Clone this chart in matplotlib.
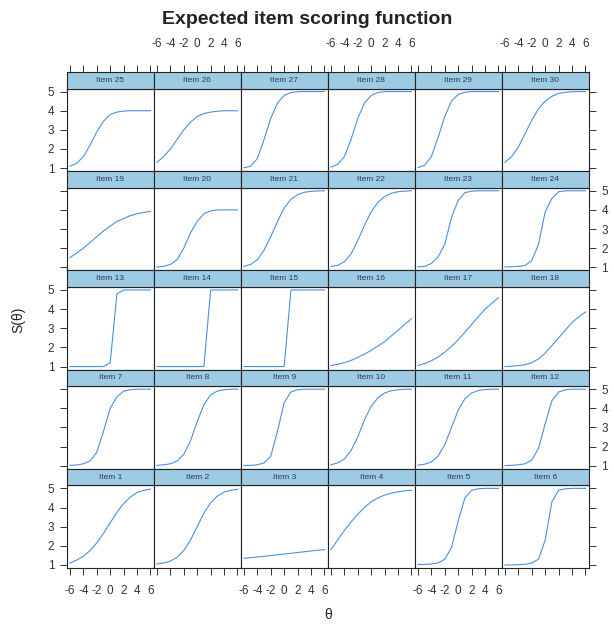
import numpy as np
import matplotlib.pyplot as plt

plt.rcParams['font.family'] = ['Liberation Sans', 'DejaVu Sans']
plt.rcParams['axes.unicode_minus'] = False

# theta grid the curves were read at
theta = [-6, -5, -4, -3, -2, -1, 0, 1, 2, 3, 4, 5, 6]

# expected scores, one list per item
item_1 = [1.1, 1.25, 1.45, 1.75, 2.15, 2.65, 3.2, 3.75, 4.2, 4.55, 4.78, 4.9, 4.96]
item_2 = [1.05, 1.1, 1.2, 1.4, 1.75, 2.3, 3.0, 3.7, 4.25, 4.6, 4.8, 4.9, 4.95]
item_3 = [1.35, 1.38, 1.42, 1.45, 1.49, 1.53, 1.57, 1.61, 1.65, 1.69, 1.73, 1.77, 1.8]
item_4 = [1.8, 2.3, 2.8, 3.25, 3.65, 4.0, 4.3, 4.5, 4.65, 4.75, 4.82, 4.87, 4.9]
item_5 = [1.02, 1.03, 1.05, 1.1, 1.3, 1.9, 3.3, 4.5, 4.9, 4.98, 5.0, 5.0, 5.0]
item_6 = [1.0, 1.0, 1.01, 1.03, 1.1, 1.3, 2.3, 4.3, 4.9, 4.98, 5.0, 5.0, 5.0]
item_7 = [1.02, 1.04, 1.1, 1.25, 1.7, 2.8, 4.0, 4.6, 4.9, 4.97, 5.0, 5.0, 5.0]
item_8 = [1.02, 1.05, 1.1, 1.25, 1.6, 2.3, 3.3, 4.2, 4.7, 4.9, 4.97, 5.0, 5.0]
item_9 = [1.01, 1.02, 1.05, 1.15, 1.5, 2.8, 4.3, 4.85, 4.97, 5.0, 5.0, 5.0, 5.0]
item_10 = [1.05, 1.15, 1.35, 1.8, 2.5, 3.4, 4.1, 4.55, 4.8, 4.92, 4.97, 5.0, 5.0]
item_11 = [1.03, 1.08, 1.2, 1.5, 2.1, 3.0, 3.9, 4.5, 4.8, 4.93, 4.98, 5.0, 5.0]
item_12 = [1.01, 1.02, 1.05, 1.1, 1.3, 1.9, 3.2, 4.4, 4.85, 4.97, 5.0, 5.0, 5.0]
item_13 = [1.0, 1.0, 1.0, 1.0, 1.0, 1.0, 1.2, 4.8, 5.0, 5.0, 5.0, 5.0, 5.0]
item_14 = [1.0, 1.0, 1.0, 1.0, 1.0, 1.0, 1.0, 1.0, 5.0, 5.0, 5.0, 5.0, 5.0]
item_15 = [1.0, 1.0, 1.0, 1.0, 1.0, 1.0, 1.0, 5.0, 5.0, 5.0, 5.0, 5.0, 5.0]
item_16 = [1.05, 1.12, 1.2, 1.32, 1.47, 1.65, 1.85, 2.07, 2.3, 2.6, 2.9, 3.2, 3.5]
item_17 = [1.05, 1.15, 1.3, 1.5, 1.75, 2.05, 2.4, 2.8, 3.2, 3.6, 4.0, 4.3, 4.6]
item_18 = [1.0, 1.02, 1.05, 1.1, 1.2, 1.4, 1.7, 2.1, 2.5, 2.9, 3.3, 3.6, 3.85]
item_19 = [1.5, 1.75, 2.0, 2.3, 2.6, 2.9, 3.15, 3.4, 3.55, 3.7, 3.8, 3.87, 3.92]
item_20 = [1.02, 1.05, 1.15, 1.4, 2.0, 2.8, 3.4, 3.8, 3.95, 4.0, 4.0, 4.0, 4.0]
item_21 = [1.05, 1.15, 1.4, 1.9, 2.6, 3.4, 4.1, 4.55, 4.8, 4.92, 4.97, 4.99, 5.0]
item_22 = [1.05, 1.1, 1.3, 1.7, 2.4, 3.2, 3.9, 4.4, 4.7, 4.87, 4.95, 4.98, 5.0]
item_23 = [1.03, 1.05, 1.2, 1.55, 2.2, 3.6, 4.5, 4.9, 4.98, 5.0, 5.0, 5.0, 5.0]
item_24 = [1.02, 1.03, 1.05, 1.1, 1.35, 2.2, 3.9, 4.6, 4.95, 5.0, 5.0, 5.0, 5.0]
item_25 = [1.1, 1.25, 1.6, 2.2, 2.9, 3.45, 3.8, 3.93, 3.98, 4.0, 4.0, 4.0, 4.0]
item_26 = [1.3, 1.6, 2.0, 2.5, 3.0, 3.4, 3.7, 3.85, 3.93, 3.97, 4.0, 4.0, 4.0]
item_27 = [1.02, 1.1, 1.5, 2.5, 3.6, 4.4, 4.8, 4.95, 4.99, 5.0, 5.0, 5.0, 5.0]
item_28 = [1.05, 1.2, 1.6, 2.5, 3.6, 4.4, 4.8, 4.95, 5.0, 5.0, 5.0, 5.0, 5.0]
item_29 = [1.03, 1.15, 1.6, 2.6, 3.7, 4.5, 4.85, 4.96, 5.0, 5.0, 5.0, 5.0, 5.0]
item_30 = [1.3, 1.6, 2.1, 2.8, 3.5, 4.1, 4.5, 4.75, 4.9, 4.96, 4.99, 5.0, 5.0]

items = [item_1, item_2, item_3, item_4, item_5, item_6, item_7, item_8, item_9, item_10,
         item_11, item_12, item_13, item_14, item_15, item_16, item_17, item_18, item_19, item_20,
         item_21, item_22, item_23, item_24, item_25, item_26, item_27, item_28, item_29, item_30]

x_ticks = [-6, -4, -2, 0, 2, 4, 6]
y_ticks = [1, 2, 3, 4, 5]

W, H = 614, 626
fig = plt.figure(figsize=(W / 100, H / 100), dpi=100)

# layout in pixels
left0, pw = 66.7, 87.0
top0, strip_h, panel_h, pitch = 72.0, 16.5, 82.7, 99.2
nrow, ncol = 5, 6

line_col = '#4a90e0'
strip_col = '#9ccbe3'
tick_kw = dict(direction='out', length=5, width=0.7, color='#333333', labelsize=8.5,
               labelcolor='#333333')

xlim = (-6.48, 6.48)
ylim = (0.84, 5.16)


def rect(x, y_top, w, h):
    return [x / W, 1 - (y_top + h) / H, w / W, h / H]


for r in range(nrow):
    for c in range(ncol):
        idx = (nrow - 1 - r) * ncol + c
        x0 = left0 + c * pw
        s_top = top0 + r * pitch
        p_top = s_top + strip_h

        ax = fig.add_axes(rect(x0, p_top, pw, panel_h))
        ax.plot(theta, items[idx], color=line_col, lw=0.8)
        ax.set_xlim(*xlim)
        ax.set_ylim(*ylim)
        for sp in ax.spines.values():
            sp.set_linewidth(0.8)
            sp.set_color('#222222')

        ax.set_xticks(x_ticks)
        ax.set_yticks(y_ticks)
        ax.tick_params(**tick_kw)
        ax.tick_params(axis='x', bottom=(r == nrow - 1), top=False,
                       labelbottom=(r == nrow - 1 and c % 2 == 0), labeltop=False, pad=7)
        ax.tick_params(axis='y', left=(c == 0), right=(c == ncol - 1),
                       labelleft=(c == 0 and r % 2 == 0),
                       labelright=(c == ncol - 1 and r % 2 == 1), pad=4)

        sx = fig.add_axes(rect(x0, s_top, pw, strip_h))
        sx.set_facecolor(strip_col)
        sx.set_xlim(*xlim)
        sx.set_yticks([])
        for sp in sx.spines.values():
            sp.set_linewidth(0.8)
            sp.set_color('#222222')
        sx.text(0.5, 0.5, 'Item %d' % (idx + 1), transform=sx.transAxes,
                ha='center', va='center', fontsize=6, color='#2d3b55')
        if r == 0:
            sx.set_xticks(x_ticks)
            sx.tick_params(**tick_kw)
            sx.tick_params(axis='x', bottom=False, labelbottom=False, top=True,
                           labeltop=(c % 2 == 1), pad=11)
        else:
            sx.set_xticks([])

fig.text(0.5, 1 - 19 / H, 'Expected item scoring function', ha='center', va='center',
         fontsize=14, fontweight='bold', color='#222222')
fig.text(18 / W, 1 - 320 / H, 'S(\u03b8)', rotation=90, ha='center', va='center',
         fontsize=10, color='#222222')
fig.text(328 / W, 1 - 615 / H, '\u03b8', ha='center', va='center', fontsize=10,
         color='#222222')

plt.savefig('out.png', dpi=100)
